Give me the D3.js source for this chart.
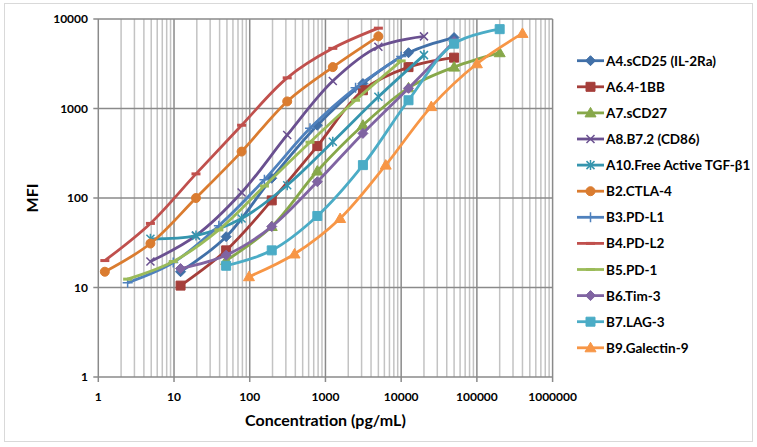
<!DOCTYPE html>
<html>
<head>
<meta charset="utf-8">
<title>MFI vs Concentration</title>
<script src="https://d3js.org/d3.v7.min.js"></script>
<style>
    body { margin: 0; background: #fff; }
    svg { font-family: Lato, "Open Sans", sans-serif; font-weight: bold; }
    .tick-label { font-size: 12px; fill: #000; }
    .axis-title { font-size: 16px; fill: #000; }
    .legend text { font-size: 13.5px; fill: #000; }
    .line { fill: none; stroke-width: 2.8; }
</style>
</head>
<body>
<div id="chart"></div>
<script>
// series names, in legend order
var seriesNames = ["A4.sCD25 (IL-2Ra)", "A6.4-1BB", "A7.sCD27", "A8.B7.2 (CD86)",
    "A10.Free Active TGF-\u03b21", "B2.CTLA-4", "B3.PD-L1", "B4.PD-L2",
    "B5.PD-1", "B6.Tim-3", "B7.LAG-3", "B9.Galectin-9"];
var seriesColors = ["#4170a8", "#a53e3a", "#87a84a", "#6a5090", "#3595ae", "#da7c30",
    "#4f81bd", "#c0504d", "#9bbb59", "#8064a2", "#4bacc6", "#f79646"];
var seriesMarkers = ["diamond", "square", "triangle", "x", "star", "circle",
    "plus", "dash", "dash", "diamond", "square", "triangle"];

// concentrations (pg/mL) per series
var xA4 = [12.2, 48.8, 195.3, 781.3, 3125, 12500, 50000];
var xA6 = [12.2, 48.8, 195.3, 781.3, 3125, 12500, 50000];
var xA7 = [48.8, 195.3, 781.3, 3125, 12500, 50000, 200000];
var xA8 = [4.88, 19.5, 78.1, 312.5, 1250, 5000, 20000];
var xA10 = [4.88, 19.5, 78.1, 312.5, 1250, 5000, 20000];
var xB2 = [1.22, 4.88, 19.5, 78.1, 312.5, 1250, 5000];
var xB3 = [2.44, 9.77, 39.1, 156.3, 625, 2500, 10000];
var xB4 = [1.22, 4.88, 19.5, 78.1, 312.5, 1250, 5000];
var xB5 = [2.44, 9.77, 39.1, 156.3, 625, 2500, 10000];
var xB6 = [12.2, 48.8, 195.3, 781.3, 3125, 12500, 50000];
var xB7 = [48.8, 195.3, 781.3, 3125, 12500, 50000, 200000];
var xB9 = [97.7, 390.6, 1562.5, 6250, 25000, 100000, 400000];

// MFI per series
var yA4 = [15, 37, 166, 650, 1900, 4200, 6200];
var yA6 = [10.5, 26, 94, 380, 1600, 2900, 3700];
var yA7 = [20, 48, 200, 650, 1700, 2900, 4200];
var yA8 = [19.5, 38, 115, 506, 2030, 4900, 6400];
var yA10 = [35, 38, 59, 139, 425, 1350, 3950];
var yB2 = [15, 31, 100, 330, 1200, 2900, 6400];
var yB3 = [11.3, 19, 49, 160, 600, 1700, 3800];
var yB4 = [20, 52, 186, 650, 2200, 4700, 7900];
var yB5 = [12.4, 19.5, 44, 136, 420, 1236, 3400];
var yB6 = [16.3, 23, 48, 152, 527, 1680, 5600];
var yB7 = [17.5, 26, 63, 233, 1236, 5300, 7700];
var yB9 = [13.2, 23.7, 59, 233, 1050, 3160, 6900];

var xTicks = [1, 10, 100, 1000, 10000, 100000, 1000000];
var yTicks = [1, 10, 100, 1000, 10000];

var xs = [xA4, xA6, xA7, xA8, xA10, xB2, xB3, xB4, xB5, xB6, xB7, xB9];
var ys = [yA4, yA6, yA7, yA8, yA10, yB2, yB3, yB4, yB5, yB6, yB7, yB9];
var data = seriesNames.map(function(name, i) {
    return {
        name: name, color: seriesColors[i], marker: seriesMarkers[i],
        values: xs[i].map(function(x, j) { return {x: x, y: ys[i][j]}; })
    };
});

var width = 757, height = 447;
var plotLeft = 98.3, plotRight = 552.6, plotTop = 19, plotBottom = 377;

var svg = d3.select("#chart").append("svg")
    .attr("width", width).attr("height", height);

// chart border
svg.append("rect")
    .attr("x", 4.5).attr("y", 3.5).attr("width", 748).attr("height", 438)
    .attr("fill", "#fff").attr("stroke", "#d9d9d9").attr("stroke-width", 1);

var xScale = d3.scaleLog().domain([1, 1000000]).range([plotLeft, plotRight]);
var yScale = d3.scaleLog().domain([1, 10000]).range([plotBottom, plotTop]);

/* gridlines */
var minorX = [];
for (var d = 1; d < 1000000; d *= 10) {
    for (var k = 2; k <= 9; k++) minorX.push(d * k);
}
var grid = svg.append("g");
grid.selectAll(".minor").data(minorX).enter().append("line")
    .attr("x1", d => xScale(d)).attr("x2", d => xScale(d))
    .attr("y1", plotTop).attr("y2", plotBottom)
    .attr("stroke", "#c3c3c3").attr("stroke-width", 1.5);
grid.selectAll(".majx").data(xTicks).enter().append("line")
    .attr("x1", d => xScale(d)).attr("x2", d => xScale(d))
    .attr("y1", plotTop).attr("y2", plotBottom + 5)
    .attr("stroke", "#8a8a8a").attr("stroke-width", 1.5);
grid.selectAll(".majy").data(yTicks).enter().append("line")
    .attr("x1", plotLeft - 5).attr("x2", plotRight)
    .attr("y1", d => yScale(d)).attr("y2", d => yScale(d))
    .attr("stroke", "#8a8a8a").attr("stroke-width", 1.5);

/* tick labels */
svg.selectAll(".xl").data(xTicks).enter().append("text")
    .attr("class", "tick-label")
    .attr("x", d => xScale(d)).attr("y", 401)
    .attr("text-anchor", "middle")
    .text(d => d3.format("d")(d));
svg.selectAll(".yl").data(yTicks).enter().append("text")
    .attr("class", "tick-label")
    .attr("x", 88).attr("y", d => yScale(d) + 4)
    .attr("text-anchor", "end")
    .text(d => d3.format("d")(d));

svg.append("text").attr("class", "axis-title")
    .attr("x", (plotLeft + plotRight) / 2).attr("y", 426)
    .attr("text-anchor", "middle")
    .text("Concentration (pg/mL)");
svg.append("text").attr("class", "axis-title")
    .attr("transform", "translate(38," + ((plotTop + plotBottom) / 2) + ") rotate(-90)")
    .attr("text-anchor", "middle")
    .text("MFI");

/* marker shapes */
function markerPath(type) {
    switch (type) {
        case "diamond": return "M0,-5L5,0L0,5L-5,0Z";
        case "square": return "M-4.5,-4.5H4.5V4.5H-4.5Z";
        case "triangle": return "M0,-5.5L5.5,4L-5.5,4Z";
        case "circle": return "M-4.5,0A4.5,4.5 0 1,0 4.5,0A4.5,4.5 0 1,0 -4.5,0";
        case "x": return "M-4,-4L4,4M-4,4L4,-4";
        case "star": return "M-4,-4L4,4M-4,4L4,-4M0,-5V5";
        case "plus": return "M-5,0H5M0,-5V5";
        case "dash": return "M-4.5,0H4.5";
    }
}
function drawMarker(g, type, color) {
    var open = (type === "x" || type === "star" || type === "plus" || type === "dash");
    g.append("path")
        .attr("d", markerPath(type))
        .attr("fill", open ? "none" : color)
        .attr("stroke", color)
        .attr("stroke-width", type === "dash" ? 3 : (open ? 1.5 : 1));
}

/* lines */
var line = d3.line()
    .x(d => xScale(d.x))
    .y(d => yScale(d.y))
    .curve(d3.curveCatmullRom.alpha(0.5));

var lines = svg.append("g").attr("class", "lines");
data.forEach(function(s) {
    lines.append("path")
        .attr("class", "line")
        .attr("d", line(s.values))
        .attr("stroke", s.color);
    s.values.forEach(function(v) {
        var g = lines.append("g")
            .attr("transform", "translate(" + xScale(v.x) + "," + yScale(v.y) + ")");
        drawMarker(g, s.marker, s.color);
    });
});

/* legend */
var legend = svg.append("g").attr("class", "legend");
data.forEach(function(s, i) {
    var y = 60.7 + i * 26.1;
    legend.append("line")
        .attr("x1", 577).attr("x2", 604).attr("y1", y).attr("y2", y)
        .attr("stroke", s.color).attr("stroke-width", 2.8);
    var g = legend.append("g").attr("transform", "translate(590.5," + y + ")");
    drawMarker(g, s.marker, s.color);
    legend.append("text")
        .attr("x", 606).attr("y", y + 5)
        .text(s.name);
});
</script>
</body>
</html>
